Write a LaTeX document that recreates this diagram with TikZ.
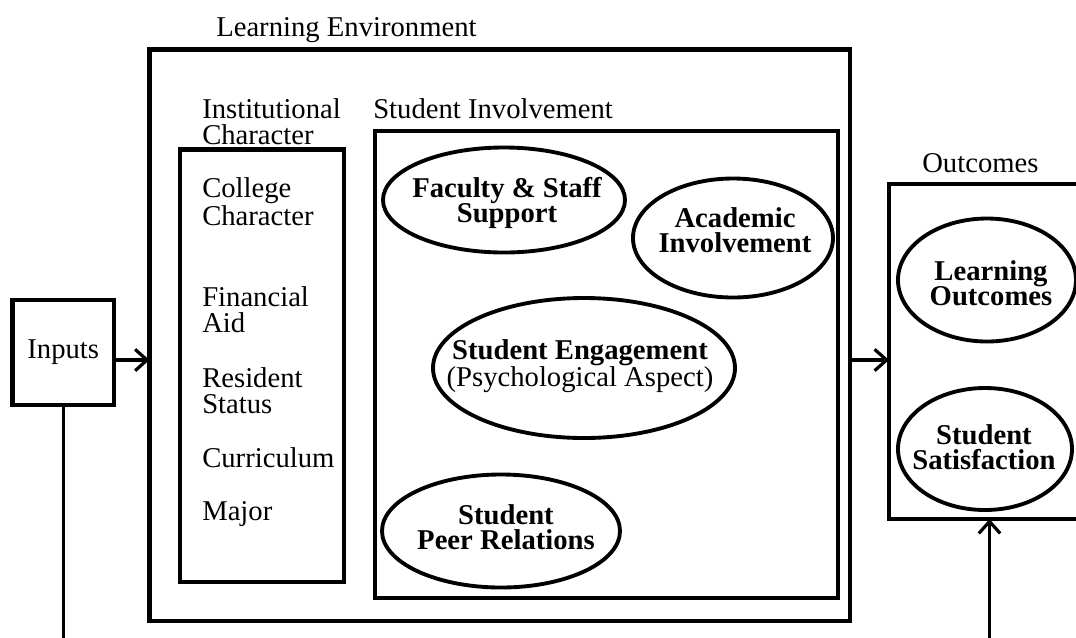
\documentclass[tikz,border=0pt]{standalone}
\usepackage{fontspec}
\setmainfont{Liberation Serif}
\usetikzlibrary{shapes.geometric,arrows.meta}
\def\px{0.75pt}
\def\sz{\fontsize{21.5}{19}\selectfont}
\tikzset{
  box/.style={draw, line width=3.4pt, inner sep=0pt, outer sep=0pt},
  oval/.style={draw, ellipse, line width=2.9pt, inner sep=0pt, outer sep=0pt},
  ovaltext/.style={font=\sz\bfseries, align=center, inner sep=0pt},
  lbl/.style={anchor=base west, align=left, inner sep=0pt},
  flow/.style={line width=2.4pt, -{Straight Barb[length=9pt,width=16pt,line width=2.4pt]}},
}
\begin{document}
\begin{tikzpicture}[x=\px, y=-\px, font=\sz]
  \useasboundingbox (0,0) rectangle (1076,637);
  \coordinate (flowy) at (0,360);
  \coordinate (foot) at (0,645);
  % boxes
  \node[box, minimum width=101.5*\px, minimum height=105*\px] (inputs) at (63.25,352.5) {Inputs};
  \node[box, minimum width=700.5*\px, minimum height=571.5*\px] (env) at (499.75,335.25) {};
  \node[box, minimum width=164*\px, minimum height=432.5*\px] (inst) at (262,365.75) {};
  \node[box, minimum width=463*\px, minimum height=467*\px] (inv) at (606.5,364.5) {};
  \node[box, minimum width=201*\px, minimum height=335*\px] (out) at (989.5,351.5) {};
  % titles (base = last line)
  \node[lbl] (envlbl) at (216,36) {Learning Environment};
  \node[lbl] (instlbl) at (202,144) {Institutional\\Character};
  \node[lbl] (invlbl) at (373,118) {Student Involvement};
  \node[lbl] (outlbl) at (922,172) {Outcomes};
  % institutional character items
  \node[lbl] (college) at (202,225) {College\\Character};
  \node[lbl] (aid) at (202,332) {Financial\\Aid};
  \node[lbl] (resident) at (202,413) {Resident\\Status};
  \node[lbl] (curric) at (202,467) {Curriculum};
  \node[lbl] (major) at (202,520) {Major};
  % student involvement
  \node[oval, minimum width=242*\px, minimum height=105*\px] (fac) at (504,200) {};
  \node[ovaltext] at (507,203) {Faculty \& Staff\\Support};
  \node[oval, minimum width=200*\px, minimum height=119*\px] (acad) at (733,238) {};
  \node[ovaltext] at (735,230) {Academic\\Involvement};
  \node[oval, minimum width=302*\px, minimum height=140*\px] (eng) at (584,368) {};
  \node[ovaltext] at (580,366) {Student Engagement\\\normalfont(Psychological Aspect)};
  \node[oval, minimum width=238*\px, minimum height=113*\px] (peer) at (501,531) {};
  \node[ovaltext] at (506,527) {Student\\Peer Relations};
  % outcomes
  \node[oval, minimum width=178*\px, minimum height=123*\px] (learn) at (987,280) {};
  \node[ovaltext] at (991,283) {Learning\\Outcomes};
  \node[oval, minimum width=174*\px, minimum height=122*\px] (sat) at (985,449) {};
  \node[ovaltext] at (984,447) {Student\\Satisfaction};
  % connectors
  \draw[flow] (inputs.east |- flowy) -- (env.west |- flowy);
  \draw[flow] (env.east |- flowy) -- (out.west |- flowy);
  \draw[line width=2.4pt] (inputs.south) -- (inputs.south |- foot);
  \draw[flow] (out.south |- foot) -- (out.south);
\end{tikzpicture}
\end{document}
